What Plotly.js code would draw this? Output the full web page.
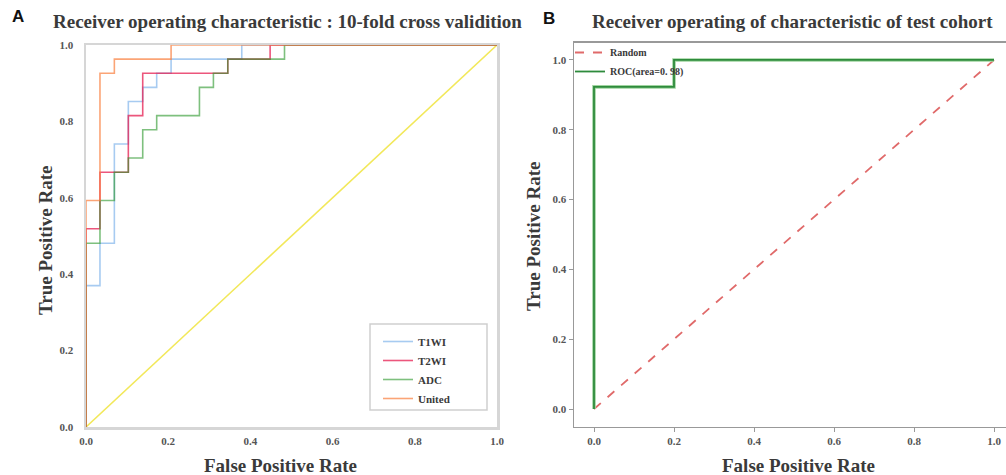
<!DOCTYPE html>
<html>
<head>
<meta charset="utf-8">
<script src="https://cdn.plot.ly/plotly-3.0.1.min.js"></script>
<style>html,body{margin:0;padding:0;background:#fff;}#chart{width:1006px;height:475px;}</style>
</head>
<body>
<div id="chart"></div>
<script>
// ---- Panel A: 10-fold cross validation ROC curves ----
const seriesNamesA = ["T1WI", "T2WI", "ADC", "United"];
const fprT1WI = [0, 0, 0.034, 0.034, 0.069, 0.069, 0.103, 0.103, 0.138, 0.138, 0.172, 0.172, 0.207, 0.207, 0.379, 0.379, 1];
const tprT1WI = [0, 0.370, 0.370, 0.481, 0.481, 0.741, 0.741, 0.852, 0.852, 0.889, 0.889, 0.926, 0.926, 0.963, 0.963, 1, 1];
const fprT2WI = [0, 0, 0.034, 0.034, 0.103, 0.103, 0.138, 0.138, 0.345, 0.345, 0.448, 0.448, 1];
const tprT2WI = [0, 0.519, 0.519, 0.667, 0.667, 0.815, 0.815, 0.926, 0.926, 0.963, 0.963, 1, 1];
const fprADC = [0, 0, 0.034, 0.034, 0.069, 0.069, 0.103, 0.103, 0.138, 0.138, 0.172, 0.172, 0.276, 0.276, 0.310, 0.310, 0.345, 0.345, 0.483, 0.483, 1];
const tprADC = [0, 0.481, 0.481, 0.593, 0.593, 0.667, 0.667, 0.704, 0.704, 0.778, 0.778, 0.815, 0.815, 0.889, 0.889, 0.926, 0.926, 0.963, 0.963, 1, 1];
const fprUnited = [0, 0, 0.034, 0.034, 0.069, 0.069, 0.207, 0.207, 1];
const tprUnited = [0, 0.593, 0.593, 0.926, 0.926, 0.963, 0.963, 1, 1];
const diagX = [0, 1];
const diagY = [0, 1];

// ---- Panel B: test cohort ROC ----
const fprTest = [0, 0, 0.2, 0.2, 1];
const tprTest = [0, 0.923, 0.923, 1, 1];
const randomX = [0, 1];
const randomY = [0, 1];
const rocLabel = "ROC(area=0. 98)";
const randomLabel = "Random";

const tickVals = [0, 0.2, 0.4, 0.6, 0.8, 1.0];
const tickText = ["0.0", "0.2", "0.4", "0.6", "0.8", "1.0"];

const SERIF = "Liberation Serif, DejaVu Serif, serif";
const TXT = "#3a3a3a";

const colorsA = ["rgba(95,160,230,0.55)", "rgba(230,30,80,0.75)", "rgba(40,150,40,0.6)", "rgba(250,125,60,0.7)"];
const fprA = [fprT1WI, fprT2WI, fprADC, fprUnited];
const tprA = [tprT1WI, tprT2WI, tprADC, tprUnited];

const traces = [];
traces.push({x: diagX, y: diagY, xaxis: "x", yaxis: "y", mode: "lines", showlegend: false,
  line: {color: "#f2e85a", width: 1.6}, hoverinfo: "skip"});
for (let i = 0; i < seriesNamesA.length; i++) {
  traces.push({x: fprA[i], y: tprA[i], xaxis: "x", yaxis: "y", mode: "lines", name: seriesNamesA[i],
    legend: "legend2", line: {color: colorsA[i], width: 1.6}});
}
traces.push({x: randomX, y: randomY, xaxis: "x2", yaxis: "y2", mode: "lines", name: randomLabel,
  legend: "legend", line: {color: "#e06a6a", width: 1.8, dash: "dash"}});
traces.push({x: fprTest, y: tprTest, xaxis: "x2", yaxis: "y2", mode: "lines", showlegend: false,
  line: {color: "#9fd49f", width: 3.6}, hoverinfo: "skip"});
traces.push({x: fprTest, y: tprTest, xaxis: "x2", yaxis: "y2", mode: "lines", name: rocLabel,
  legend: "legend", line: {color: "#2e8b3c", width: 1.8}});

const W = 1006, H = 475;
const px = v => v / W;
const py = v => 1 - v / H;

const tickFont = {family: SERIF, size: 11, color: "#555", weight: "bold"};

function label(text, x, y, size, extra) {
  return Object.assign({text: text, x: px(x), y: py(y), xref: "paper", yref: "paper",
    xanchor: "center", yanchor: "middle", showarrow: false,
    font: {family: SERIF, size: size, color: TXT, weight: "bold"}}, extra || {});
}

const layout = {
  width: W, height: H,
  margin: {l: 0, r: 0, t: 0, b: 0},
  paper_bgcolor: "#fff", plot_bgcolor: "#fff",
  showlegend: true,
  xaxis: {domain: [px(86), px(497)], range: [0, 1], anchor: "y",
    showline: true, linecolor: "#d6d6d6", linewidth: 2.5, mirror: true,
    showgrid: false, zeroline: false, ticks: "", tickvals: tickVals, ticktext: tickText,
    tickfont: tickFont, ticklabelstandoff: 2},
  yaxis: {domain: [py(427), py(45)], range: [0, 1], anchor: "x",
    showline: true, linecolor: "#d6d6d6", linewidth: 2.5, mirror: true,
    showgrid: false, zeroline: false, ticks: "", tickvals: tickVals, ticktext: tickText,
    tickfont: tickFont, ticklabelstandoff: 8},
  xaxis2: {domain: [px(574), 1], range: [-0.05, 1.03], anchor: "y2",
    showline: true, linecolor: "#999", linewidth: 1.5, mirror: true,
    showgrid: false, zeroline: false, ticks: "outside", ticklen: 4, tickcolor: "#999",
    tickvals: tickVals, ticktext: tickText, tickfont: tickFont},
  yaxis2: {domain: [py(426.5), py(42.5)], range: [-0.05, 1.05], anchor: "x2",
    showline: true, linecolor: "#999", linewidth: 1.5,
    showgrid: false, zeroline: false, ticks: "outside", ticklen: 4, tickcolor: "#999",
    tickvals: tickVals, ticktext: tickText, tickfont: tickFont},
  legend2: {x: px(378), y: py(327), xref: "paper", yref: "paper", xanchor: "left", yanchor: "top",
    bgcolor: "rgba(0,0,0,0)", borderwidth: 0,
    font: {family: SERIF, size: 11, color: TXT, weight: "bold"}, tracegroupgap: 0},
  legend: {x: px(570), y: py(38), xref: "paper", yref: "paper", xanchor: "left", yanchor: "top",
    bgcolor: "rgba(0,0,0,0)", borderwidth: 0,
    font: {family: SERIF, size: 10, color: TXT, weight: "bold"}, tracegroupgap: 0},
  shapes: [
    {type: "rect", xref: "paper", yref: "paper", x0: px(370), x1: px(487), y0: py(410), y1: py(324),
      line: {color: "#cfcfcf", width: 1.5}, fillcolor: "rgba(255,255,255,0)"}
  ],
  annotations: [
    label("<b>A</b>", 18, 17, 17, {font: {family: "Liberation Sans, Arial, sans-serif", size: 17, color: "#111", weight: "bold"}}),
    label("<b>B</b>", 549, 18, 17, {font: {family: "Liberation Sans, Arial, sans-serif", size: 17, color: "#111", weight: "bold"}}),
    label("<b>Receiver operating characteristic : 10-fold cross validition</b>", 287, 22, 19),
    label("<b>Receiver operating of characteristic of test cohort</b>", 792, 22, 19),
    label("<b>False Positive Rate</b>", 280, 465, 19),
    label("<b>True Positive Rate</b>", 45, 240, 19, {textangle: -90}),
    label("<b>False Positive Rate</b>", 798, 465, 19),
    label("<b>True Positive Rate</b>", 533, 236, 19, {textangle: -90})
  ]
};

Plotly.newPlot("chart", traces, layout, {displayModeBar: false, staticPlot: true});
</script>
</body>
</html>
